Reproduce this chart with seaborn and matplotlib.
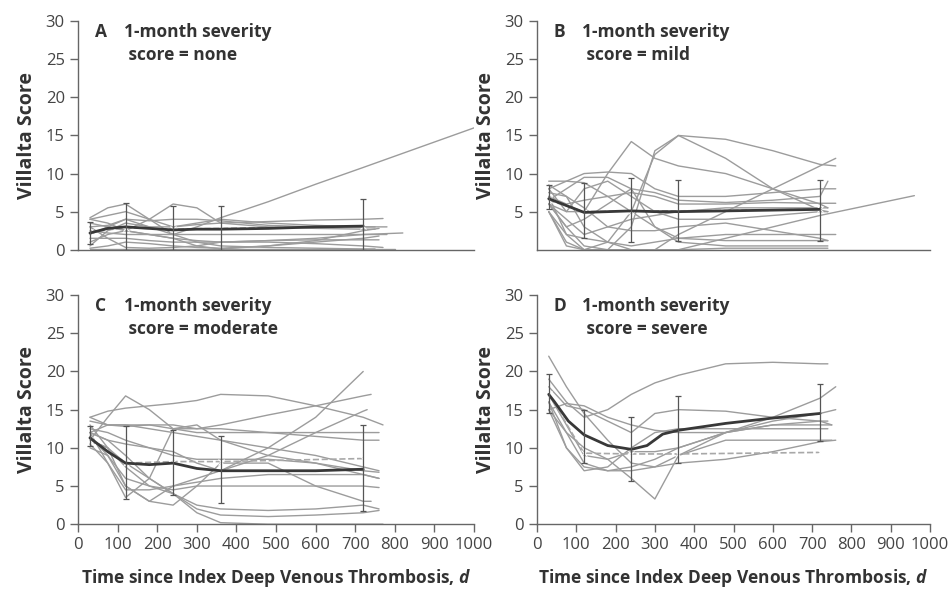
import matplotlib
matplotlib.use("Agg")
import matplotlib.pyplot as plt
import pandas as pd
import seaborn as sns

# common time grid (days) used by the individual patient curves
t_grid = [30, 75, 120, 180, 240, 300, 360, 480, 600, 720]
bar_t = [30, 120, 240, 360, 720]

# ---- panel A: severity none ----
none_curves = [
    [4.2, 5.5, 6.0, 4.0, 2.0, 1.0, 0.5, 0.3, 0.2, 0.1],
    [4.0, 4.5, 5.0, 4.0, 3.0, 3.3, 3.5, 3.7, 3.9, 4.0],
    [3.0, 3.2, 4.0, 3.0, 2.0, 3.0, 4.2, 6.3, 8.6, 10.8],
    [1.0, 2.0, 2.5, 4.0, 6.0, 5.5, 3.5, 3.0, 2.8, 2.7],
    [2.0, 3.0, 4.0, 3.8, 4.0, 4.0, 3.8, 3.2, 3.0, 3.0],
    [0.5, 2.5, 3.5, 3.0, 3.0, 3.5, 4.0, 3.5, 3.2, 3.0],
    [3.5, 3.0, 2.5, 2.0, 1.5, 1.2, 1.0, 1.2, 1.5, 2.0],
    [2.5, 2.2, 2.0, 2.0, 2.0, 2.0, 2.0, 2.0, 2.0, 2.0],
    [1.5, 1.5, 1.5, 1.2, 1.0, 1.0, 1.0, 1.2, 1.3, 1.3],
    [0.2, 0.5, 1.0, 0.8, 0.5, 0.3, 0.2, 0.5, 1.0, 1.5],
    [3.0, 1.5, 0.3, 0.2, 0.3, 0.5, 1.0, 1.0, 0.8, 0.5],
    [0.1, 0.1, 0.1, 0.1, 0.1, 0.1, 0.1, 0.1, 0.1, 0.1],
    [4.0, 3.5, 2.5, 2.0, 1.5, 0.5, 0.1, 0.5, 1.2, 2.5],
]
none_end_t = [750, 770, 1000, 750, 780, 750, 820, 780, 760, 760, 770, 800, 760]
none_end_v = [0.1, 4.1, 16.0, 2.7, 3.0, 3.0, 2.2, 2.0, 1.3, 1.8, 0.3, 0.1, 2.8]
none_mean_t = [30, 75, 120, 180, 240, 300, 360, 480, 600, 720]
none_mean_v = [2.2, 2.8, 3.0, 2.8, 2.6, 2.7, 2.7, 2.8, 3.0, 3.1]
none_lo = [0.8, 0.0, 0.0, 0.0, 0.0]
none_hi = [3.6, 6.1, 5.7, 5.8, 6.6]
none_dash = [2.3, 2.9, 2.7, 2.8, 3.1]

# ---- panel B: severity mild ----
mild_curves = [
    [9.0, 9.0, 8.8, 7.0, 5.0, 3.0, 1.0, 0.5, 0.5, 0.5],
    [6.0, 3.0, 0.5, 0.0, 3.0, 13.0, 15.0, 14.5, 13.0, 11.2],
    [8.0, 5.0, 5.0, 10.0, 14.2, 12.0, 11.0, 10.0, 8.0, 6.0],
    [7.0, 2.0, 0.0, 1.0, 5.0, 12.5, 15.0, 12.0, 8.0, 5.2],
    [5.0, 1.0, 0.0, 0.0, 0.0, 0.0, 2.0, 5.0, 8.0, 11.0],
    [5.0, 0.5, 0.0, 0.0, 0.0, 0.0, 0.0, 1.5, 3.0, 4.5],
    [8.0, 9.0, 10.0, 10.2, 10.0, 8.0, 7.0, 7.0, 7.5, 8.0],
    [6.5, 8.0, 9.5, 9.5, 8.0, 7.5, 6.5, 6.2, 6.5, 7.0],
    [7.0, 6.0, 6.5, 7.0, 7.5, 7.0, 6.0, 6.0, 6.2, 6.1],
    [6.0, 4.0, 2.0, 3.0, 4.0, 4.5, 5.0, 5.5, 5.5, 5.5],
    [5.0, 2.0, 1.5, 1.0, 0.5, 1.0, 1.5, 2.0, 2.0, 2.0],
    [6.0, 3.0, 4.0, 6.0, 8.0, 3.0, 1.5, 1.2, 1.2, 1.2],
    [7.5, 7.0, 5.5, 3.0, 2.5, 2.5, 3.0, 3.5, 2.5, 1.5],
    [8.5, 7.0, 3.0, 1.0, 0.0, 0.0, 0.0, 0.2, 0.2, 0.2],
    [6.0, 5.0, 8.0, 9.0, 7.0, 5.0, 4.0, 4.0, 4.5, 5.0],
]
mild_end_t = [740, 760, 740, 740, 760, 960, 760, 740, 760, 740, 760, 740, 740, 740, 740]
mild_end_v = [0.5, 11.0, 5.5, 5.0, 12.0, 7.1, 8.0, 9.0, 6.1, 5.5, 2.0, 1.2, 1.2, 0.2, 5.0]
mild_mean_t = [30, 75, 120, 180, 240, 300, 360, 480, 600, 720]
mild_mean_v = [6.7, 5.8, 4.9, 5.0, 5.1, 5.0, 5.0, 5.1, 5.2, 5.3]
mild_lo = [5.4, 1.5, 1.0, 1.2, 1.2]
mild_hi = [8.5, 8.7, 9.4, 9.1, 9.2]
mild_dash = [6.5, 5.0, 5.1, 5.1, 5.3]

# ---- panel C: severity moderate ----
mod_curves = [
    [11.0, 14.0, 16.8, 15.0, 12.5, 12.0, 12.0, 12.0, 12.0, 12.0],
    [14.0, 14.8, 15.2, 15.5, 15.8, 16.2, 17.0, 16.8, 15.5, 14.0],
    [12.0, 11.0, 10.5, 10.0, 9.5, 8.0, 7.0, 10.0, 14.0, 20.0],
    [13.5, 13.0, 12.8, 13.0, 12.5, 12.5, 13.0, 14.3, 15.5, 16.8],
    [10.0, 9.0, 5.0, 3.0, 5.0, 6.0, 7.0, 9.0, 12.0, 14.8],
    [14.0, 13.0, 13.0, 12.5, 12.0, 11.5, 11.0, 10.0, 9.0, 7.5],
    [12.0, 8.0, 3.5, 6.0, 12.5, 13.0, 11.0, 9.0, 8.0, 6.5],
    [12.0, 11.0, 9.0, 6.0, 4.0, 1.5, 0.2, 0.0, 0.0, 0.0],
    [11.0, 10.0, 8.0, 6.0, 4.0, 2.5, 2.0, 1.8, 2.0, 2.5],
    [11.5, 9.0, 6.0, 5.0, 4.0, 2.0, 1.2, 1.0, 1.2, 1.5],
    [10.5, 8.0, 4.5, 4.5, 5.0, 5.5, 6.0, 6.5, 6.5, 6.5],
    [12.5, 12.0, 11.0, 10.0, 9.0, 8.5, 8.5, 8.5, 8.0, 7.0],
    [11.0, 10.0, 7.5, 5.0, 4.5, 5.0, 5.0, 5.0, 5.0, 5.0],
    [13.0, 10.0, 5.0, 3.0, 2.5, 5.0, 8.0, 8.0, 5.0, 3.0],
    [12.0, 13.0, 13.0, 13.0, 13.0, 12.5, 12.5, 12.0, 11.5, 11.0],
]
mod_end_t = [760, 770, 720, 740, 730, 760, 760, 770, 760, 760, 760, 760, 760, 740, 760]
mod_end_v = [12.0, 13.0, 20.0, 17.0, 15.0, 7.0, 6.0, 0.0, 2.0, 1.8, 6.0, 6.8, 4.8, 3.0, 11.0]
mod_mean_t = [30, 75, 120, 180, 240, 300, 360, 480, 600, 720]
mod_mean_v = [11.3, 9.5, 8.0, 7.8, 8.0, 7.3, 7.0, 7.0, 7.0, 7.2]
mod_lo = [10.2, 3.3, 3.8, 2.8, 1.7]
mod_hi = [12.8, 12.8, 12.3, 11.6, 13.0]
mod_dash = [11.0, 8.0, 8.2, 8.2, 8.6]

# ---- panel D: severity severe ----
sev_curves = [
    [22.0, 18.0, 14.5, 11.0, 8.0, 7.5, 8.0, 8.5, 9.5, 10.8],
    [19.0, 16.0, 14.0, 15.0, 17.0, 18.5, 19.5, 21.0, 21.2, 21.0],
    [15.0, 15.8, 15.5, 14.0, 13.0, 12.3, 12.0, 12.0, 13.0, 13.0],
    [18.0, 15.5, 15.0, 13.5, 12.0, 14.5, 15.0, 14.8, 14.0, 13.5],
    [16.0, 12.0, 10.0, 8.5, 6.0, 3.3, 9.0, 12.0, 13.0, 13.5],
    [15.0, 10.0, 7.0, 7.5, 10.0, 12.0, 12.5, 12.5, 12.5, 12.5],
    [16.0, 10.0, 7.5, 7.0, 7.0, 7.5, 9.0, 11.0, 11.0, 11.0],
    [17.0, 13.0, 9.0, 8.5, 9.5, 9.5, 10.0, 12.0, 14.0, 16.5],
    [15.0, 12.0, 8.0, 7.0, 7.5, 8.5, 10.0, 12.0, 13.5, 14.5],
]
sev_end_t = [760, 740, 750, 750, 740, 740, 750, 760, 760]
sev_end_v = [11.0, 21.0, 13.0, 13.0, 13.5, 12.5, 11.0, 18.0, 15.0]
sev_mean_t = [30, 45, 80, 120, 180, 240, 280, 320, 360, 480, 600, 720]
sev_mean_v = [17.0, 16.0, 13.5, 11.7, 10.3, 9.8, 10.3, 11.8, 12.3, 13.2, 13.9, 14.5]
sev_lo = [14.5, 8.0, 5.6, 8.0, 10.9]
sev_hi = [19.7, 15.0, 14.1, 16.8, 18.3]
sev_dash = [17.0, 9.3, 9.2, 9.2, 9.4]

panels = [
    ("A", "none", none_curves, none_end_t, none_end_v, none_mean_t, none_mean_v, none_lo, none_hi, none_dash),
    ("B", "mild", mild_curves, mild_end_t, mild_end_v, mild_mean_t, mild_mean_v, mild_lo, mild_hi, mild_dash),
    ("C", "moderate", mod_curves, mod_end_t, mod_end_v, mod_mean_t, mod_mean_v, mod_lo, mod_hi, mod_dash),
    ("D", "severe", sev_curves, sev_end_t, sev_end_v, sev_mean_t, sev_mean_v, sev_lo, sev_hi, sev_dash),
]

sns.set_style("ticks")
plt.rcParams["font.family"] = ["Open Sans", "DejaVu Sans"]
plt.rcParams["mathtext.fontset"] = "custom"
plt.rcParams["mathtext.it"] = "Open Sans:italic:bold"

fig = plt.figure(figsize=(9.52, 5.89), dpi=100)
boxes = [
    [0.082, 0.576, 0.416, 0.388],
    [0.564, 0.576, 0.413, 0.388],
    [0.082, 0.110, 0.416, 0.389],
    [0.564, 0.110, 0.413, 0.389],
]

for i, (letter, sev, curves, end_t, end_v, mt, mv, lo, hi, dash) in enumerate(panels):
    ax = fig.add_axes(boxes[i])

    # long-form table of the individual patient curves
    rows = []
    for pid, vals in enumerate(curves):
        for t, v in zip(t_grid, vals):
            rows.append((pid, t, v))
        rows.append((pid, end_t[pid], end_v[pid]))
    df = pd.DataFrame(rows, columns=["pid", "t", "v"])
    sns.lineplot(data=df, x="t", y="v", units="pid", estimator=None, sort=False,
                 color="#9c9c9c", lw=1.0, ax=ax, legend=False)

    # dashed estimate with x markers
    sns.lineplot(x=bar_t, y=dash, color="#a8a8a8", lw=1.2, ls="--", ax=ax,
                 marker="x", markersize=4, mew=0.8, legend=False)

    # mean curve
    sns.lineplot(x=mt, y=mv, color="#383838", lw=2.0, ax=ax, legend=False)

    # error bars
    mid = [(a + b) / 2 for a, b in zip(lo, hi)]
    half = [(b - a) / 2 for a, b in zip(lo, hi)]
    ax.errorbar(bar_t, mid, yerr=half, fmt="none", ecolor="#555555",
                elinewidth=0.9, capsize=2.5, capthick=0.9)

    ax.set_xlim(0, 1000)
    ax.set_ylim(0, 30)
    ax.set_yticks(range(0, 31, 5))
    ax.set_ylabel("Villalta Score", fontsize=14, fontweight="bold", color="#333333", labelpad=6)
    sns.despine(ax=ax)
    for s in ("left", "bottom"):
        ax.spines[s].set_color("#666666")
        ax.spines[s].set_linewidth(1.0)
    ax.tick_params(colors="#666666", labelcolor="#444444", labelsize=12, length=6, width=1.0)

    if i < 2:
        ax.set_xticks([])
        ax.set_xlabel("")
    else:
        ax.set_xticks(range(0, 1001, 100))
        ax.set_xlabel(r"Time since Index Deep Venous Thrombosis, $d$", fontsize=12.5,
                      fontweight="bold", color="#333333", labelpad=10)
    if letter == "B":
        ax.set_yticks(range(5, 31, 5))

    ax.text(0.043, 0.99, letter, transform=ax.transAxes, fontsize=12.5,
            fontweight="bold", color="#333333", va="top")
    ax.text(0.115, 0.99, "1-month severity\n score = " + sev, transform=ax.transAxes,
            fontsize=12.5, fontweight="bold", color="#333333", va="top", linespacing=1.35)

fig.savefig("out.png", dpi=100)
